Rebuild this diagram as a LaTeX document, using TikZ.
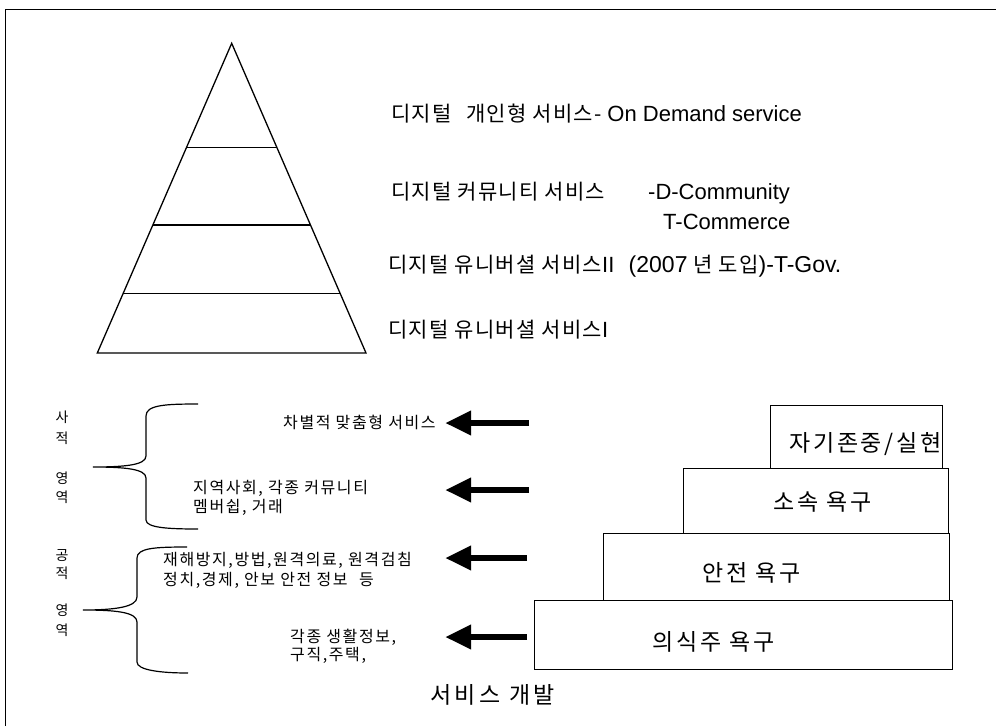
\documentclass[tikz,border=0pt]{standalone}
\usepackage{fontspec}
\setmainfont{Noto Sans CJK KR}
\newfontfamily\lat{Liberation Sans}
\newfontfamily\korbig[LetterSpace=6]{Noto Sans CJK KR}
\newfontfamily\korsmall[LetterSpace=10]{Noto Sans CJK KR}
\newfontfamily\korneed[LetterSpace=12]{Noto Sans CJK KR}
\newfontfamily\kordev[LetterSpace=15]{Noto Sans CJK KR}
\newcommand\latbig[1]{{\lat\fontsize{22}{24}\selectfont #1}}
\newcommand\latbigw[1]{{\lat\fontsize{23}{24}\selectfont #1}}
\usetikzlibrary{calc,arrows.meta}
\tikzset{
  lbl/.style={inner sep=0pt, anchor=base west},
  big/.style={font=\korbig\fontsize{21}{24}\selectfont},
  small/.style={font=\korsmall\fontsize{16}{19}\selectfont},
  vsm/.style={font=\fontsize{14}{16}\selectfont, inner sep=0pt, anchor=base},
  need/.style={font=\korneed\fontsize{23}{26}\selectfont},
  devs/.style={font=\kordev\fontsize{23}{26}\selectfont},
  box/.style={draw, line width=1pt, inner sep=0pt, anchor=north west},
  pyr/.style={line width=1.3pt},
  brace/.style={line width=1.2pt},
  fat/.style={line width=6.5pt, -{Triangle[length=26pt,width=23pt]}}
}
\begin{document}
\begin{tikzpicture}[x=1pt,y=-1pt]
\useasboundingbox (0,0) rectangle (996,726);
% frame
\draw[line width=1pt] (5,726) -- (5,9) -- (996,9);
% pyramid
\coordinate (apex) at (231.7,43.3);
\coordinate (bl) at (97.3,353);
\coordinate (br) at (366,353);
\draw[pyr, line join=miter] (apex) -- (bl) -- (br) -- cycle;
\draw[pyr] ($(apex)!0.337!(bl)$) -- ($(apex)!0.337!(br)$);
\draw[pyr] ($(apex)!0.587!(bl)$) -- ($(apex)!0.587!(br)$);
\draw[pyr] ($(apex)!0.807!(bl)$) -- ($(apex)!0.807!(br)$);
% pyramid labels
\node[lbl,big] (t1) at (391,121.6) {디지털\hspace{0.4em} 개인형 서비스- \latbig{On Demand service}};
\node[lbl,big] (t2) at (391,199.6) {디지털 커뮤니티 서비스};
\node[lbl] (t2b) at (648,199.6) {\latbig{-D-Community}};
\node[lbl] (t2c) at (663,229.7) {\latbig{T-Commerce}};
\node[lbl,big] (t3) at (388,272.6) {디지털 유니버셜 서비스\latbig{II}\hspace{0.4em} \latbigw{(2007} 년 도입\latbigw{)-T-Gov.}};
\node[lbl,big] (t4) at (388,337.6) {디지털 유니버셜 서비스\latbig{I}};
% side labels
\node[vsm] (s1) at (62,422) {사};
\node[vsm] (s2) at (62,443) {적};
\node[vsm] (s3) at (62,483) {영};
\node[vsm] (s4) at (62,502) {역};
\node[vsm] (p1) at (62,560) {공};
\node[vsm] (p2) at (62,578) {적};
\node[vsm] (p3) at (62,615) {영};
\node[vsm] (p4) at (62,635) {역};
% braces
\draw[brace] (198,404) .. controls (165,404) and (146,405) .. (146,416) -- (146,456)
  .. controls (146,465) and (125,467) .. (93,467)
  .. controls (125,467) and (146,469) .. (146,478) -- (146,520)
  .. controls (146,528) and (170,529) .. (198,529);
\draw[brace] (187,547) .. controls (155,547) and (137,548) .. (137,558) -- (137,597)
  .. controls (137,607) and (115,610) .. (83,610)
  .. controls (115,610) and (137,612) .. (137,622) -- (137,662)
  .. controls (137,670) and (160,673) .. (188,673);
% service texts
\node[lbl,small] (c1) at (283,428.8) {차별적 맞춤형 서비스};
\node[lbl,small] (c2) at (193,493.8) {지역사회, 각종 커뮤니티};
\node[lbl,small] (c2b) at (193,512.8) {멤버쉽, 거래};
\node[lbl,small] (c3) at (163,565.8) {재해방지,방법,원격의료, 원격검침};
\node[lbl,small] (c3b) at (163,585.8) {정치,경제, 안보 안전 정보\hspace{0.4em} 등};
\node[lbl,small] (c4) at (290,642.8) {각종 생활정보,};
\node[lbl,small] (c4b) at (290,660.8) {구직,주택,};
\node[lbl,devs] (dev) at (430,703.3) {서비스 개발};
% arrows
\coordinate (a1s) at (529,423); \coordinate (a1e) at (445,423);
\coordinate (a2s) at (529,490); \coordinate (a2e) at (445,490);
\coordinate (a3s) at (527,558); \coordinate (a3e) at (445,558);
\coordinate (a4s) at (527,637); \coordinate (a4e) at (445,637);
\draw[fat] (a1s) -- (a1e);
\draw[fat] (a2s) -- (a2e);
\draw[fat] (a3s) -- (a3e);
\draw[fat] (a4s) -- (a4e);
% needs boxes
\node[box, minimum width=172pt, minimum height=63pt] (b4) at (770,405) {};
\node[box, minimum width=265pt, minimum height=65pt] (b3) at (683,468) {};
\node[box, minimum width=346pt, minimum height=67pt] (b2) at (603,533) {};
\node[box, minimum width=418pt, minimum height=69pt] (b1) at (534,600) {};
\node[lbl,need] (n4) at (789,451.3) {자기존중/실현};
\node[lbl,need] (n3) at (773,510.3) {소속 욕구};
\node[lbl,need] (n2) at (702,581.3) {안전 욕구};
\node[lbl,need] (n1) at (652,650.3) {의식주 욕구};
\end{tikzpicture}
\end{document}
